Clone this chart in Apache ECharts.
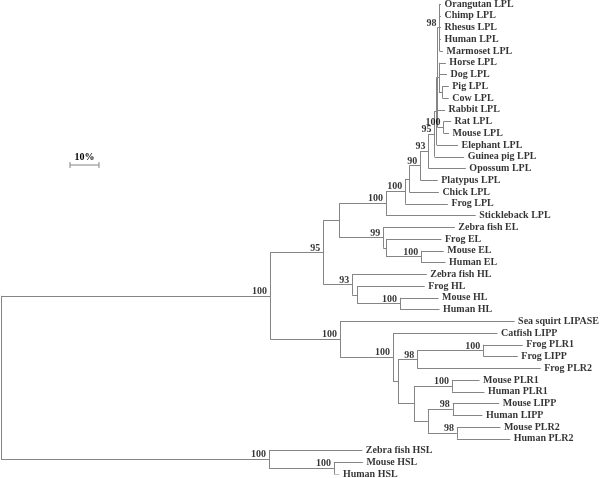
<!DOCTYPE html>
<html>
<head>
<meta charset="utf-8">
<script src="https://cdn.jsdelivr.net/npm/echarts@6/dist/echarts.min.js"></script>
<style>
html,body{margin:0;padding:0;background:#fff;}
#chart{width:600px;height:478px;}
</style>
</head>
<body>
<div id="chart"></div>
<script>
// Tree topology in Newick format: branch lengths in % divergence, internal labels = bootstrap values
const treeNewick =
  "(((((((((((((Orangutan_LPL:0.5,Chimp_LPL:0.5,Rhesus_LPL:0.5,Human_LPL:0.5,Marmoset_LPL:1.2)98:0.7," +
  "(Horse_LPL:2.4,Dog_LPL:2.8,(Pig_LPL:2.2,Cow_LPL:2.2):1.2):0.5," +
  "Rabbit_LPL:2.6,(Rat_LPL:2.6,Mouse_LPL:1.9)100:2.1):0.3,Elephant_LPL:7.4):0.7," +
  "Guinea_pig_LPL:10.2)95:2.1,Opossum_LPL:12.9)93:2.8,Platypus_LPL:6.0)90:3.8,Chick_LPL:10.2):1.4," +
  "Frog_LPL:14.7)100:6.6,Stickleback_LPL:30.9)100:16.2," +
  "(Zebra_fish_EL:24.7,(Frog_EL:19.1,(Mouse_EL:7.8,Human_EL:8.4)100:12.1):1.0)99:15.2):5.5," +
  "(Zebra_fish_HL:25.7,(Frog_HL:23.3,(Mouse_HL:13.3,Human_HL:13.6)100:14.8):1.7)93:10.0)95:18.3," +
  "(Sea_squirt_LIPASE:60.2,(Catfish_LIPP:36.0,(((Frog_PLR1:13.6,Frog_LIPP:11.9)100:22.8,Frog_PLR2:42.6)98:6.6," +
  "((Mouse_PLR1:9.5,Human_PLR1:11.2)100:13.1,((Mouse_LIPP:16.0,Human_LIPP:10.2)98:8.6," +
  "(Mouse_PLR2:15.0,Human_PLR2:18.4)98:10.0):4.8):5.5):1.7)100:18.3)100:24.1)100:92.8," +
  "(Zebra_fish_HSL:32.2,(Mouse_HSL:10.0,Human_HSL:1.9)100:22.4)100:92.4);";

const scaleBarValue = [10];          // scale bar length (% divergence)
const scaleBarLabel = ["10%"];

function parseNewick(s) {
  let i = 0;
  function node() {
    const n = { children: [] };
    if (s[i] === '(') {
      i++;
      while (true) {
        n.children.push(node());
        if (s[i] === ',') { i++; continue; }
        break;
      }
      i++; // ')'
    }
    let name = '';
    while (i < s.length && !',():;'.includes(s[i])) name += s[i++];
    n.name = name.replace(/_/g, ' ');
    n.length = 0;
    if (s[i] === ':') {
      i++;
      let len = '';
      while (i < s.length && !',();'.includes(s[i])) len += s[i++];
      n.length = parseFloat(len);
    }
    return n;
  }
  return node();
}

const root = parseNewick(treeNewick);
const leaves = [], internals = [];
let leafCounter = 0;
function layout(n, depth) {
  n.x = depth + n.length;
  if (!n.children.length) { n.y = leafCounter++; leaves.push(n); }
  else {
    n.children.forEach(c => layout(c, n.x));
    n.y = (n.children[0].y + n.children[n.children.length - 1].y) / 2;
    internals.push(n);
  }
}
layout(root, 0);

const segments = [];
internals.forEach(n => {
  const f = n.children[0], l = n.children[n.children.length - 1];
  segments.push({ coords: [[n.x, f.y], [n.x, l.y]] });
  n.children.forEach(c => segments.push({ coords: [[n.x, c.y], [c.x, c.y]] }));
});

const FONT = '"Liberation Serif", "Times New Roman", serif';
const LINE = '#858585';

const chart = echarts.init(document.getElementById('chart'), null, { renderer: 'canvas' });
chart.setOption({
  animation: false,
  backgroundColor: '#fff',
  grid: { left: 1, top: 4, width: 580, height: 470 },
  xAxis: { type: 'value', min: 0, max: 200, show: false },
  yAxis: { type: 'value', min: 0, max: leaves.length - 1, inverse: true, show: false },
  series: [
    {
      type: 'lines', coordinateSystem: 'cartesian2d', silent: true,
      lineStyle: { color: LINE, width: 1, opacity: 1 },
      data: segments
    },
    {
      type: 'scatter', symbolSize: 0, silent: true,
      data: leaves.map(n => ({ value: [n.x, n.y], name: n.name })),
      label: {
        show: true, position: [3.5, 0], align: 'left', verticalAlign: 'middle',
        formatter: p => p.name, color: '#000', fontFamily: FONT, fontWeight: 'bold', fontSize: 10
      }
    },
    {
      type: 'scatter', symbolSize: 0, silent: true,
      data: internals.filter(n => n.name).map(n => ({ value: [n.x, n.y], name: n.name })),
      label: {
        show: true, position: [-3, -4.5], align: 'right', verticalAlign: 'middle',
        formatter: p => p.name, color: '#000', fontFamily: FONT, fontWeight: 'bold', fontSize: 10
      }
    }
  ]
});

// scale bar, its length taken from the x axis scale
const p0 = chart.convertToPixel({ gridIndex: 0 }, [0, 0]);
const p1 = chart.convertToPixel({ gridIndex: 0 }, [scaleBarValue[0], 0]);
const barLen = p1[0] - p0[0];
const bx = 70, by = 165;
chart.setOption({
  graphic: [
    { type: 'line', shape: { x1: bx, y1: by, x2: bx + barLen, y2: by }, style: { stroke: LINE, lineWidth: 1 } },
    { type: 'line', shape: { x1: bx, y1: by - 3, x2: bx, y2: by + 3 }, style: { stroke: LINE, lineWidth: 1 } },
    { type: 'line', shape: { x1: bx + barLen, y1: by - 3, x2: bx + barLen, y2: by + 3 }, style: { stroke: LINE, lineWidth: 1 } },
    { type: 'text', x: bx + barLen / 2, y: by - 8,
      style: { text: scaleBarLabel[0], fill: '#000', font: 'bold 10px ' + FONT, align: 'center', verticalAlign: 'middle' } }
  ]
});
</script>
</body>
</html>
